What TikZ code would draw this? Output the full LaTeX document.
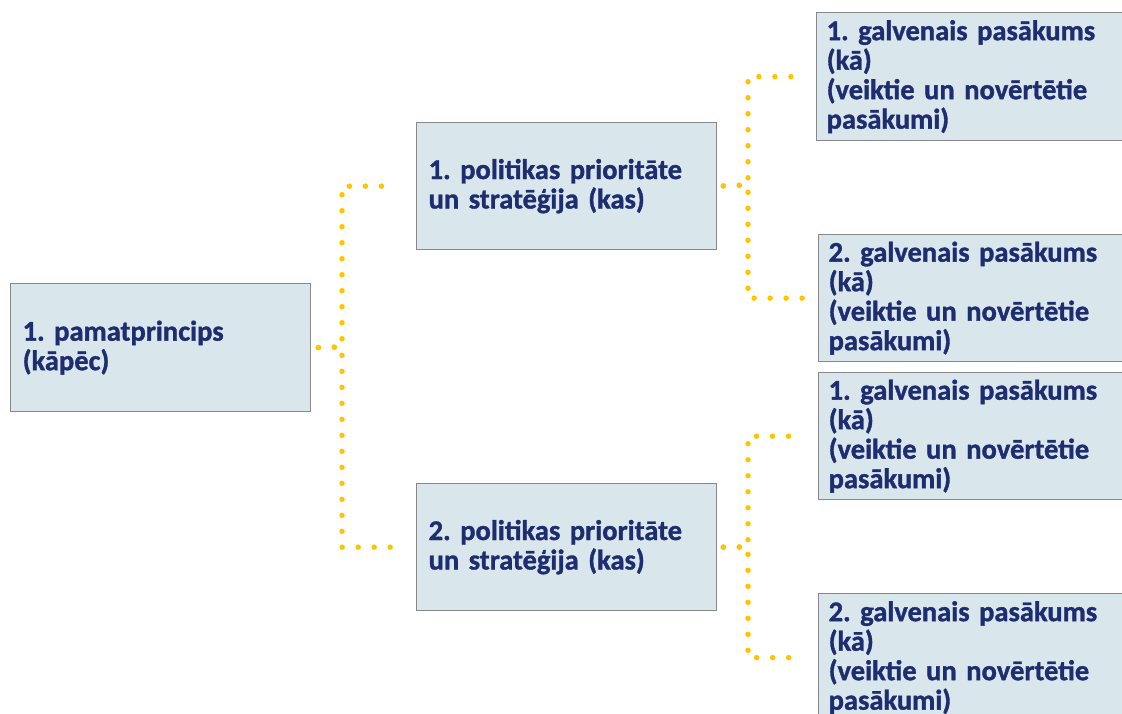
\documentclass[tikz,border=0pt]{standalone}
\usepackage{fontspec}
\setmainfont{Carlito}[BoldFont={Carlito Bold}, BoldFeatures={FakeBold=1.2}]
\frenchspacing
\definecolor{navy}{RGB}{30,44,112}
\definecolor{boxfill}{RGB}{217,230,236}
\definecolor{boxline}{RGB}{135,135,140}
\definecolor{dotyel}{RGB}{255,196,0}
\tikzset{
  card/.style={draw=boxline, line width=1.3pt, fill=boxfill, rectangle, anchor=north west,
    text=navy, font=\bfseries\fontsize{28.5}{29.5}\selectfont, align=left, inner ysep=0pt},
  rootcard/.style={card, minimum width=300pt, minimum height=128pt, inner xsep=12pt, text width=276pt},
  polcard/.style={card, minimum width=300pt, minimum height=127pt, inner xsep=12pt, text width=276pt},
  actcard/.style={card, minimum width=330pt, minimum height=128pt, inner xsep=7pt, text width=310pt},
  dotline/.style={draw=dotyel, line width=5.5pt, line cap=round, dash pattern=on 0pt off 16pt}
}
\begin{document}
\begin{tikzpicture}[x=1pt,y=-1pt]
\useasboundingbox (0,0) rectangle (1122,713);
\node[rootcard] (root) at (10,283) {1. pamatprincips\\(kāpēc)};
\node[polcard] (p1) at (416,122) {1. politikas prioritāte\\un stratēģija (kas)};
\node[polcard] (p2) at (416,483) {2. politikas prioritāte\\un stratēģija (kas)};
\node[actcard] (a1) at (816,12) {1. galvenais pasākums\\(kā)\\(veiktie un novērtētie\\pasākumi)};
\node[actcard, minimum height=127pt] (a2) at (818,234) {2. galvenais pasākums\\(kā)\\(veiktie un novērtētie\\pasākumi)};
\node[actcard, minimum height=127pt] (a3) at (818,372) {1. galvenais pasākums\\(kā)\\(veiktie un novērtētie\\pasākumi)};
\node[actcard] (a4) at (818,593) {2. galvenais pasākums\\(kā)\\(veiktie un novērtētie\\pasākumi)};
\coordinate (j0) at (342,347);
\coordinate (j1) at (748,185);
\coordinate (j2) at (748,547);
\draw[dotline, shorten <=7pt, shorten >=28pt] (root.east) -- (j0) |- (p1.west);
\draw[dotline, shorten <=7pt, shorten >=16pt] (root.east) -- (j0) |- (p2.west);
\draw[dotline, shorten <=6pt, shorten >=13pt] (p1.east) -- (j1) |- (a1.west);
\draw[dotline, shorten <=6pt, shorten >=13pt] (p1.east) -- (j1) |- (a2.west);
\draw[dotline, shorten <=6pt, shorten >=15pt] (p2.east) -- (j2) |- (a3.west);
\draw[dotline, shorten <=6pt, shorten >=15pt] (p2.east) -- (j2) |- (a4.west);
\end{tikzpicture}
\end{document}
